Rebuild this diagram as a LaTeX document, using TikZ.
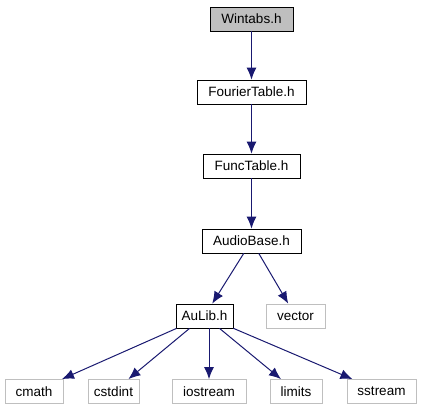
\documentclass[tikz,border=0pt]{standalone}
\usepackage{fontspec}
\setmainfont{Liberation Sans}
\usetikzlibrary{arrows.meta}
\definecolor{edgeblue}{HTML}{191970}
\definecolor{extgray}{HTML}{BFBFBF}

\begin{document}
\begin{tikzpicture}[x=1pt, y=-1pt, every node/.style={draw, rectangle, minimum height=24pt, inner sep=0pt, font=\fontsize{13.5}{16}\selectfont}]
  \useasboundingbox (0,0) rectangle (421,411);

  \tikzset{hdr/.style={thick, black}, ext/.style={draw=extgray, thick}, dep/.style={edgeblue, line width=1pt, -{Latex[length=12pt, width=10pt]}}}

  \node[hdr, fill=extgray, minimum width=83pt] (wintabs) at (251.5,19) {Wintabs.h};
  \node[hdr, minimum width=109pt] (fourier) at (251.5,92) {FourierTable.h};
  \node[hdr, minimum width=97pt] (functable) at (251.5,166) {FuncTable.h};
  \node[hdr, minimum width=99pt] (audiobase) at (251.5,241) {AudioBase.h};

  \node[hdr, minimum width=57pt] (aulib) at (204.5,316) {AuLib.h};
  \node[ext, minimum width=59pt] (vector) at (295.5,316) {vector};

  \node[ext, minimum width=58pt] (cmath) at (34,391.5) {cmath};
  \node[ext, minimum width=51pt] (cstdint) at (113.5,391.5) {cstdint};
  \node[ext, minimum width=74pt] (iostream) at (209,391.5) {iostream};
  \node[ext, minimum width=52pt] (limits) at (296,391.5) {limits};
  \node[ext, minimum width=69pt] (sstream) at (381.5,391.5) {sstream};

  \draw[dep] (wintabs) -- (fourier);
  \draw[dep] (fourier) -- (functable);
  \draw[dep] (functable) -- (audiobase);
  \draw[dep] (audiobase) -- (aulib);
  \draw[dep] (audiobase) -- (vector);
  \draw[dep] (aulib) -- (cmath);
  \draw[dep] (aulib) -- (cstdint);
  \draw[dep] (aulib.south -| iostream.north) -- (iostream);
  \draw[dep] (aulib) -- (limits);
  \draw[dep] (aulib) -- (sstream);
\end{tikzpicture}
\end{document}
